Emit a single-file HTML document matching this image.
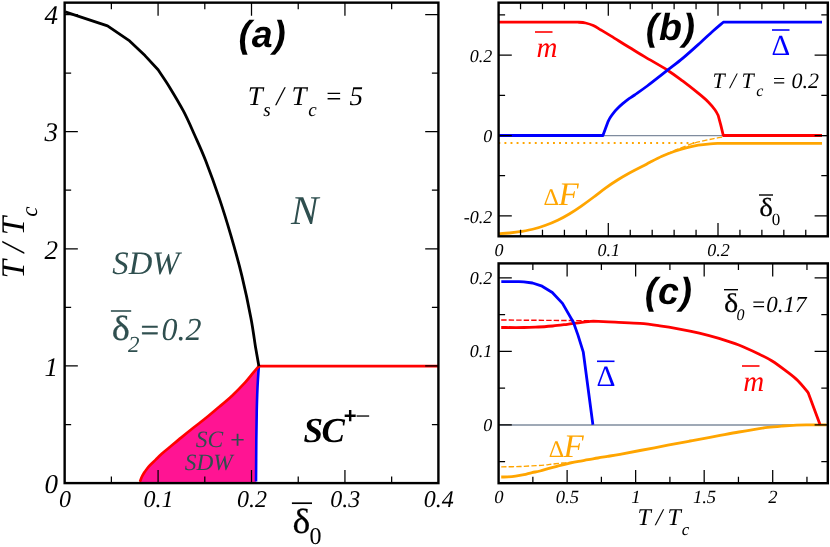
<!DOCTYPE html>
<html lang="en"><head><meta charset="utf-8"><title>Phase diagram</title>
<style>
html,body{margin:0;padding:0;background:#fff;}
body{width:830px;height:547px;overflow:hidden;font-family:"Liberation Serif",serif;}
#wrap{will-change:transform;width:830px;height:547px;background:transparent}
svg{display:block;text-rendering:geometricPrecision}
text{font-family:"Liberation Serif",serif;font-style:italic}
.sans{font-family:"Liberation Sans",sans-serif}
.up{font-style:normal}
</style></head><body>
<div id="wrap">
<svg width="830" height="547" viewBox="0 0 830 547">
<rect width="830" height="547" fill="#fff"/>

<!-- ===== panel (a): phase diagram ===== -->
<path d="M139.9 483.1C140.0 482.7 140.0 481.8 140.3 480.7C140.7 479.6 141.3 477.9 142.0 476.5C142.7 475.1 143.5 473.8 144.3 472.5C145.1 471.2 146.1 470.0 147.0 468.8C147.9 467.6 148.5 466.8 150.0 465.3C151.5 463.8 153.9 461.5 155.8 459.6C157.7 457.7 159.4 455.9 161.5 454.0C163.6 452.1 165.1 451.0 168.4 448.3C171.7 445.6 176.9 441.1 181.2 437.6C185.5 434.1 189.7 430.7 194.0 427.3C198.3 423.9 202.5 420.8 206.8 417.3C211.1 413.8 215.3 410.1 219.6 406.5C223.9 402.9 228.1 399.4 232.4 395.4C236.7 391.4 241.8 386.1 245.2 382.4C248.6 378.7 250.6 375.9 252.9 373.2C255.2 370.5 257.9 367.4 258.9 366.2C258.7 368.5 258.2 375.2 257.9 380.0C257.6 384.8 257.4 389.3 257.2 395.0C257.0 400.7 256.8 406.5 256.7 414.0C256.6 421.5 256.4 428.5 256.3 440.0C256.2 451.5 256.1 475.9 256.0 483.1Z" fill="#ff1493"/>
<path d="M258.9 366.2C258.7 368.5 258.2 375.2 257.9 380.0C257.6 384.8 257.4 389.3 257.2 395.0C257.0 400.7 256.8 406.5 256.7 414.0C256.6 421.5 256.4 428.8 256.3 440.0C256.2 451.2 256.1 474.6 256.0 481.5" fill="none" stroke="#0000ff" stroke-width="2.6" stroke-linejoin="round" />
<path d="M140.3 480.7C140.6 480.0 141.3 477.9 142.0 476.5C142.7 475.1 143.5 473.8 144.3 472.5C145.1 471.2 146.1 470.0 147.0 468.8C147.9 467.6 148.5 466.8 150.0 465.3C151.5 463.8 153.9 461.5 155.8 459.6C157.7 457.7 159.4 455.9 161.5 454.0C163.6 452.1 165.1 451.0 168.4 448.3C171.7 445.6 176.9 441.1 181.2 437.6C185.5 434.1 189.7 430.7 194.0 427.3C198.3 423.9 202.5 420.8 206.8 417.3C211.1 413.8 215.3 410.1 219.6 406.5C223.9 402.9 228.1 399.4 232.4 395.4C236.7 391.4 241.8 386.1 245.2 382.4C248.6 378.7 250.6 375.9 252.9 373.2C255.2 370.5 257.9 367.4 258.9 366.2" fill="none" stroke="#ff0000" stroke-width="2.7" stroke-linejoin="round" stroke-linecap="round"/>
<path d="M258.9 366.2L438.4 366.2" fill="none" stroke="#ff0000" stroke-width="2.7" stroke-linejoin="round" />
<path d="M65.2 11.9L107.5 25.8L129.6 40.9L145.0 55.6L158.1 69.8C160.0 72.7 165.5 80.5 169.7 87.4C173.9 94.3 179.3 103.2 183.5 111.1C187.7 119.0 190.9 126.7 194.6 135.0C198.3 143.3 201.6 150.2 205.7 160.8C209.8 171.4 215.2 186.2 219.4 198.6C223.6 211.0 227.0 222.1 230.8 235.1C234.6 248.1 238.7 262.6 242.0 276.3C245.3 290.0 248.6 305.6 250.8 317.4C253.1 329.2 254.2 338.9 255.5 347.0C256.9 355.1 258.3 363.0 258.9 366.2" fill="none" stroke="#000" stroke-width="2.8" stroke-linejoin="round" />
<rect x="64.65" y="2.65" width="373.75" height="480.45" fill="none" stroke="#000" stroke-width="2.4"/>
<path d="M111.37 483.10v-6.5M111.37 2.65v6.5M204.80 483.10v-6.5M204.80 2.65v6.5M298.23 483.10v-6.5M298.23 2.65v6.5M391.65 483.10v-6.5M391.65 2.65v6.5M158.08 483.10v-13.2M158.08 2.65v13.2M251.51 483.10v-13.2M251.51 2.65v13.2M344.94 483.10v-13.2M344.94 2.65v13.2M64.65 424.53h6.5M438.40 424.53h-6.5M64.65 307.38h6.5M438.40 307.38h-6.5M64.65 190.23h6.5M438.40 190.23h-6.5M64.65 73.07h6.5M438.40 73.07h-6.5M64.65 365.95h13.2M438.40 365.95h-13.2M64.65 248.80h13.2M438.40 248.80h-13.2M64.65 131.65h13.2M438.40 131.65h-13.2M64.65 14.50h13.2M438.40 14.50h-13.2" stroke="#000" stroke-width="1.25" fill="none"/>
<g font-size="24" text-anchor="middle">
<text x="65.1" y="506.6">0</text>
<text x="158.5" y="506.6">0.1</text>
<text x="251.9" y="506.6">0.2</text>
<text x="345.3" y="506.6">0.3</text>
<text x="438.8" y="506.6">0.4</text>
</g>
<g font-size="27" text-anchor="end">
<text x="58.1" y="492.8">0</text>
<text x="58.1" y="375.7">1</text>
<text x="58.1" y="258.5">2</text>
<text x="58.1" y="141.3">3</text>
<text x="58.1" y="24.2">4</text>
</g>
<g transform="translate(23.8,278.6) rotate(-90)"><text x="0" y="0" font-size="33">T / T<tspan font-size="23" dy="13.6">c</tspan></text></g>
<text transform="translate(292.6,532.6) scale(1.08,1)" font-size="35" class="up" stroke="#000" stroke-width="0.25">δ</text>
<path d="M291.9 503.2H312" stroke="#000" stroke-width="1.7"/>
<text x="309.4" y="543.8" font-size="24" class="up">0</text>
<text x="238.6" y="47.3" font-size="37.5" font-weight="bold" class="sans" letter-spacing="0.7">(a)</text>
<text y="105.4" font-size="27"><tspan x="247.8">T</tspan><tspan font-size="19" x="263.3" dy="11">s</tspan><tspan x="276.3" dy="-11">/</tspan><tspan x="291.4">T</tspan><tspan font-size="19" x="308.2" dy="11">c</tspan><tspan x="324.6" dy="-11">=</tspan><tspan x="349.6">5</tspan></text>
<text x="291.0" y="224.0" font-size="41" fill="#2f4f4f">N</text>
<text x="112.3" y="273.8" font-size="32.7" fill="#2f4f4f">SDW</text>
<g fill="#2f4f4f"><text transform="translate(111.7,339.7) scale(1.1,1)" font-size="35" class="up" stroke="#2f4f4f" stroke-width="0.25">δ</text><text x="128.0" y="352.3" font-size="23">2</text><text x="140.6" y="341.0" font-size="33" class="up" stroke="#2f4f4f" stroke-width="0.4">=</text><text x="161.4" y="339.8" font-size="32">0.2</text></g>
<path d="M110.9 311.0H131.2" stroke="#2f4f4f" stroke-width="1.6"/>
<text x="195.8" y="446.8" font-size="23.5" fill="#2f4f4f">SC</text>
<text x="230.4" y="447.6" font-size="25" fill="#2f4f4f" class="up" stroke="#2f4f4f" stroke-width="0.35">+</text>
<text x="184.8" y="469.8" font-size="23.3" fill="#2f4f4f">SDW</text>
<text x="303.6" y="442.2" font-size="35" font-weight="bold" letter-spacing="-1.6">SC</text>
<text x="343.8" y="422.7" font-size="22" font-weight="bold" class="sans up">+</text>
<text x="355.3" y="424.6" font-size="27" class="up">−</text>
<!-- ===== panel (b) ===== -->
<path d="M498.6 135.7H827.8" stroke="#7f8c9e" stroke-width="1.3"/>
<path d="M498.38 143.0H696" stroke="#ffa500" stroke-width="1.9" stroke-dasharray="1.9 4.17"/>
<path d="M660.0 156.8C661.3 156.2 665.0 154.7 668.0 153.4C671.0 152.1 673.5 150.9 677.7 149.2C681.9 147.5 689.0 144.7 693.4 143.3C697.8 141.9 700.8 141.5 704.2 140.7C707.6 139.9 710.9 139.2 713.9 138.6C716.9 138.0 720.9 137.3 722.3 137.0" fill="none" stroke="#ffa500" stroke-width="1.3" stroke-linejoin="round" stroke-dasharray="5.3 2.2"/>
<path d="M498.7 233.7C500.5 233.6 505.7 233.4 509.5 233.0C513.3 232.6 517.5 232.1 521.5 231.4C525.5 230.7 529.6 230.0 533.6 229.0C537.6 228.0 541.6 226.8 545.6 225.3C549.6 223.8 553.7 222.1 557.7 220.2C561.7 218.3 565.7 216.1 569.7 213.7C573.7 211.3 577.7 208.6 581.7 205.8C585.7 203.0 589.8 200.0 593.8 197.0C597.8 194.0 601.8 190.8 605.8 187.9C609.8 185.0 613.9 182.3 617.9 179.8C621.9 177.3 625.9 175.0 629.9 172.8C633.9 170.6 638.6 168.2 642.0 166.5C645.4 164.8 646.7 164.0 650.0 162.3C653.3 160.6 658.0 158.1 662.0 156.3C666.0 154.5 670.1 152.9 674.1 151.5C678.1 150.1 682.1 148.9 686.1 147.8C690.1 146.8 694.2 145.9 698.2 145.2C702.2 144.5 706.6 144.1 710.2 143.8C713.8 143.5 718.3 143.4 719.9 143.3L822.0 143.3" fill="none" stroke="#ffa500" stroke-width="2.8" stroke-linejoin="round" />
<path d="M498.7 22.2L577.9 22.2C579.2 22.3 583.0 22.4 585.6 23.0C588.2 23.6 590.7 24.4 593.3 25.6C595.9 26.8 598.0 28.2 601.0 30.0C604.0 31.8 606.9 33.5 611.2 36.1C615.5 38.7 621.1 42.4 626.6 45.8C632.1 49.2 637.7 52.5 644.5 56.6C651.3 60.7 661.1 66.1 667.5 70.2C673.9 74.3 677.8 77.4 682.9 81.2C688.0 85.0 693.9 89.7 698.2 93.2C702.5 96.7 705.7 99.4 708.5 102.2C711.3 105.0 713.3 107.6 714.9 109.8C716.5 112.0 717.7 114.5 718.2 115.5L720.8 125.2L723.3 135.5L822.0 135.5" fill="none" stroke="#ff0000" stroke-width="2.8" stroke-linejoin="round" />
<path d="M498.7 135.5L602.9 135.5L604.2 132.0L605.4 128.7L607.9 121.9C608.3 121.1 609.4 118.7 610.4 117.2C611.4 115.7 612.4 114.3 613.6 112.8C614.8 111.3 616.2 109.8 617.7 108.3C619.2 106.8 620.9 105.2 622.7 103.7C624.5 102.2 626.4 100.7 628.4 99.2C630.4 97.8 631.5 97.2 634.6 95.0C637.7 92.8 641.7 90.1 647.2 86.0C652.7 81.9 661.5 74.9 667.5 70.2C673.5 65.5 677.8 62.4 682.9 58.1C688.0 53.8 693.1 49.2 698.2 44.6C703.3 40.0 709.4 34.2 713.6 30.5C717.8 26.8 721.7 23.6 723.3 22.2L822.0 22.2" fill="none" stroke="#0000ff" stroke-width="2.8" stroke-linejoin="round" />
<rect x="498.60" y="2.65" width="329.20" height="233.65" fill="none" stroke="#000" stroke-width="2.4"/>
<path d="M520.54 236.30v-6.5M520.54 2.65v6.5M542.48 236.30v-6.5M542.48 2.65v6.5M564.42 236.30v-6.5M564.42 2.65v6.5M586.36 236.30v-6.5M586.36 2.65v6.5M608.30 236.30v-6.5M608.30 2.65v6.5M630.24 236.30v-6.5M630.24 2.65v6.5M652.18 236.30v-6.5M652.18 2.65v6.5M674.12 236.30v-6.5M674.12 2.65v6.5M696.06 236.30v-6.5M696.06 2.65v6.5M718.00 236.30v-6.5M718.00 2.65v6.5M739.94 236.30v-6.5M739.94 2.65v6.5M761.88 236.30v-6.5M761.88 2.65v6.5M783.82 236.30v-6.5M783.82 2.65v6.5M805.76 236.30v-6.5M805.76 2.65v6.5M608.30 236.30v-13.2M608.30 2.65v13.2M718.00 236.30v-13.2M718.00 2.65v13.2M498.60 175.74h6.5M827.80 175.74h-6.5M498.60 95.26h6.5M827.80 95.26h-6.5M498.60 14.78h6.5M827.80 14.78h-6.5M498.60 215.98h13.2M827.80 215.98h-13.2M498.60 135.50h13.2M827.80 135.50h-13.2M498.60 55.02h13.2M827.80 55.02h-13.2" stroke="#000" stroke-width="1.25" fill="none"/>
<g font-size="18" text-anchor="middle">
<text x="499.0" y="255.9">0</text>
<text x="608.7" y="255.9">0.1</text>
<text x="718.4" y="255.9">0.2</text>
</g>
<g font-size="18" text-anchor="end">
<text x="492.3" y="222.6">-0.2</text>
<text x="492.3" y="142.1">0</text>
<text x="492.3" y="61.6">0.2</text>
</g>
<text x="645.8" y="40.2" font-size="37.5" font-weight="bold" class="sans" letter-spacing="0.7">(b)</text>
<text x="536.5" y="57.2" font-size="29" fill="#ff0000">m</text>
<path d="M535 32H552.5" stroke="#ff0000" stroke-width="1.6"/>
<text x="771.6" y="54.5" font-size="29" fill="#0000ff" class="up">Δ</text>
<path d="M772 30H789.5" stroke="#0000ff" stroke-width="1.6"/>
<text y="87.6" font-size="22"><tspan x="712.6">T / T</tspan><tspan font-size="16" x="756.3" dy="8.3">c</tspan><tspan x="771.6" dy="-8.3">=</tspan><tspan x="791.6">0.2</tspan></text>
<text x="543.6" y="204.8" font-size="24" fill="#ffa500" class="up">Δ</text>
<text x="558.4" y="204.8" font-size="33" fill="#ffa500">F</text>
<text transform="translate(759.2,215.6) scale(1.12,1)" font-size="26" class="up" stroke="#000" stroke-width="0.2">δ</text>
<path d="M759 195H773" stroke="#000" stroke-width="1.4"/>
<text x="771.8" y="225.3" font-size="17" class="up">0</text>
<!-- ===== panel (c) ===== -->
<path d="M498.6 425.0H827.8" stroke="#7f8c9e" stroke-width="1.4"/>
<path d="M501.2 466.9C504.3 466.8 514.2 466.7 520.0 466.5C525.8 466.3 532.0 465.9 536.2 465.6C540.4 465.4 542.7 465.2 545.0 465.0C547.3 464.8 547.7 464.7 550.0 464.4C552.3 464.1 556.1 463.7 559.0 463.4C561.9 463.1 565.2 462.9 567.5 462.6C569.8 462.4 572.1 462.0 573.0 461.9" fill="none" stroke="#ffa500" stroke-width="1.4" stroke-linejoin="round" stroke-dasharray="5.4 2.1"/>
<path d="M501.2 477.0C502.3 477.0 505.6 476.9 508.0 476.8C510.4 476.7 512.9 476.5 515.6 476.1C518.3 475.8 521.3 475.3 524.0 474.7C526.7 474.1 529.3 473.2 532.0 472.6C534.7 472.0 537.0 471.8 540.0 471.0C543.0 470.2 546.7 469.0 549.9 468.1C553.1 467.2 556.1 466.5 559.3 465.7C562.5 464.9 565.7 464.1 568.9 463.4C572.1 462.7 575.4 462.0 578.6 461.4C581.8 460.8 585.0 460.3 588.2 459.7C591.4 459.1 594.6 458.6 597.8 458.0C601.0 457.4 603.8 457.0 607.5 456.4C611.2 455.8 614.6 455.3 620.0 454.3C625.4 453.3 632.0 452.0 640.0 450.5C648.0 449.0 659.5 446.8 667.8 445.2C676.1 443.6 683.0 442.3 690.0 441.0C697.0 439.7 704.2 438.5 710.0 437.4C715.8 436.3 719.7 435.5 724.5 434.6C729.3 433.7 734.1 432.8 738.9 432.0C743.7 431.2 748.6 430.4 753.4 429.6C758.2 428.8 763.0 428.0 767.8 427.4C772.6 426.8 777.5 426.4 782.3 426.0C787.1 425.6 791.9 425.3 796.7 425.1C801.5 424.9 806.2 424.9 811.2 424.8C816.2 424.8 824.0 424.8 826.5 424.8" fill="none" stroke="#ffa500" stroke-width="2.8" stroke-linejoin="round" />
<path d="M501.2 320.0L590.0 320.7" fill="none" stroke="#ff0000" stroke-width="1.4" stroke-linejoin="round" stroke-dasharray="5.4 2.1"/>
<path d="M501.2 327.5C505.0 327.5 517.7 327.6 523.9 327.5C530.1 327.4 533.6 327.2 538.4 327.0C543.2 326.8 548.0 326.4 552.8 326.0C557.6 325.6 562.5 324.9 567.3 324.3C572.1 323.7 577.4 322.9 581.7 322.4C586.0 321.9 591.4 321.4 593.3 321.2C596.9 321.4 607.2 321.8 615.0 322.2C622.8 322.6 632.5 322.8 640.0 323.4C647.5 324.0 653.2 324.9 659.8 325.9C666.4 326.8 672.9 327.9 679.5 329.1C686.1 330.3 692.7 331.6 699.3 333.1C705.9 334.7 712.4 336.4 719.0 338.4C725.6 340.4 732.2 342.4 738.8 345.0C745.4 347.6 753.0 351.2 758.5 353.8C764.0 356.4 767.2 357.9 771.7 360.7C776.2 363.5 781.3 367.3 785.6 370.6C789.9 373.9 794.0 376.8 797.7 380.5C801.5 384.2 806.4 390.6 808.1 392.6L819.9 424.3" fill="none" stroke="#ff0000" stroke-width="2.8" stroke-linejoin="round" />
<path d="M501.3 281.7L519.0 281.7L523.8 281.9L532.5 283.0L542.1 286.2L552.3 292.5L562.5 303.4L573.5 322.5L577.9 334.9L583.3 352.2L592.9 424.7" fill="none" stroke="#0000ff" stroke-width="2.8" stroke-linejoin="round" />
<rect x="498.60" y="263.40" width="329.20" height="219.80" fill="none" stroke="#000" stroke-width="2.4"/>
<path d="M532.86 483.20v-6.5M532.86 263.40v6.5M601.39 483.20v-6.5M601.39 263.40v6.5M669.91 483.20v-6.5M669.91 263.40v6.5M738.44 483.20v-6.5M738.44 263.40v6.5M806.96 483.20v-6.5M806.96 263.40v6.5M567.12 483.20v-13.2M567.12 263.40v13.2M635.65 483.20v-13.2M635.65 263.40v13.2M704.18 483.20v-13.2M704.18 263.40v13.2M772.70 483.20v-13.2M772.70 263.40v13.2M498.60 461.65h6.5M827.80 461.65h-6.5M498.60 388.15h6.5M827.80 388.15h-6.5M498.60 314.65h6.5M827.80 314.65h-6.5M498.60 424.90h13.2M827.80 424.90h-13.2M498.60 351.40h13.2M827.80 351.40h-13.2M498.60 277.90h13.2M827.80 277.90h-13.2" stroke="#000" stroke-width="1.25" fill="none"/>
<g font-size="18.6" text-anchor="middle">
<text x="498.9" y="502.7">0</text>
<text x="567.4" y="502.7">0.5</text>
<text x="636.0" y="502.7">1</text>
<text x="704.5" y="502.7">1.5</text>
<text x="773.0" y="502.7">2</text>
</g>
<g font-size="18" text-anchor="end">
<text x="492.3" y="430.9">0</text>
<text x="492.3" y="357.4">0.1</text>
<text x="492.3" y="283.9">0.2</text>
</g>
<text x="644.8" y="303.6" font-size="37.5" font-weight="bold" class="sans" letter-spacing="0.7">(c)</text>
<text x="596.6" y="386.0" font-size="29.5" fill="#0000ff" class="up">Δ</text>
<path d="M597 361.3H614.5" stroke="#0000ff" stroke-width="1.6"/>
<text x="743.2" y="391.0" font-size="29" fill="#ff0000">m</text>
<path d="M742 366H759.5" stroke="#ff0000" stroke-width="1.6"/>
<text x="548.8" y="457.0" font-size="24" fill="#ffa500" class="up">Δ</text>
<text x="563.6" y="457.0" font-size="33" fill="#ffa500">F</text>
<text transform="translate(724.1,312) scale(1.12,1)" font-size="27" class="up" stroke="#000" stroke-width="0.2">δ</text>
<text x="736.6" y="320" font-size="16">0</text>
<text x="750.8" y="311.7" font-size="23">=0.17</text>
<path d="M724 289.7H738" stroke="#000" stroke-width="1.4"/>
<text y="525" font-size="24"><tspan x="637.4">T</tspan><tspan x="655.8">/</tspan><tspan x="667.6">T</tspan><tspan font-size="17" x="681.8" dy="10.3">c</tspan></text>
</svg>
</div>
</body></html>
